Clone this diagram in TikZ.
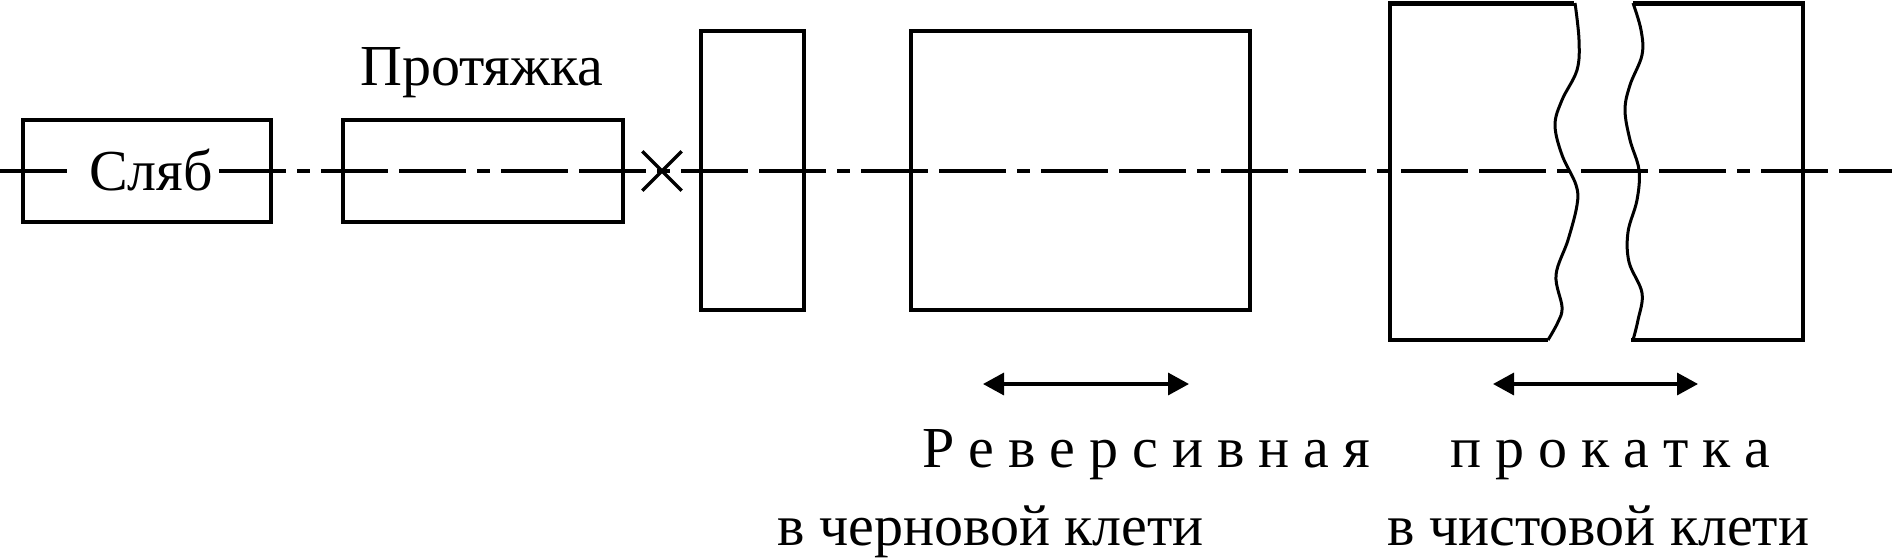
\documentclass[tikz,border=0pt]{standalone}
\usepackage{fontspec}
\setmainfont{Liberation Serif}
\usetikzlibrary{arrows.meta,shapes.misc}
\newlength\lsp
\setlength\lsp{14pt}
\begin{document}
\begin{tikzpicture}[x=1pt,y=-1pt,
  box/.style={draw, line width=4.6pt, inner sep=0pt, rectangle},
  lbl/.style={inner sep=0pt, anchor=base west, font=\fontsize{58}{60}\selectfont},
  axisline/.style={line width=3.6pt},
  wave/.style={line width=3pt, line join=round},
  edge/.style={line width=4.6pt, line join=miter},
  dbl/.style={line width=3.4pt, {Triangle[length=21pt,width=22pt]}-{Triangle[length=21pt,width=22pt]}}]
\useasboundingbox (0,0) rectangle (1892,558);

% centre line
\coordinate (c0) at (0,171);
\coordinate (c1) at (67,171);
\coordinate (c2) at (219,171);
\coordinate (c3) at (1892,171);
\draw[axisline] (c0) -- (c1);
\draw[axisline, dash pattern=on 67pt off 11pt on 13pt off 11pt on 67pt off 11pt] (c2) -- (c3);

% boxes
\node[box, minimum width=248pt, minimum height=102pt] (slab) at (147,171) {};
\node[box, minimum width=280pt, minimum height=102pt] (draw) at (483,171) {};
\node[box, minimum width=103pt, minimum height=279pt] (stand) at (752.5,170.5) {};
\node[box, minimum width=339pt, minimum height=279pt] (rough) at (1080.5,170.5) {};

% cut mark
\node[cross out, draw, line width=3.4pt, inner sep=0pt, minimum size=36pt] (cut) at (662,171) {};

% finishing strip with break
\coordinate (l1) at (1575,3.5);
\coordinate (l2) at (1390,3.5);
\coordinate (l3) at (1390,340);
\coordinate (l4) at (1548,340);
\draw[edge] ([xshift=-1pt]l1) -- (l2) -- (l3) -- (l4);
\draw[wave] plot[smooth, tension=0.6] coordinates {(1575,3) (1579,40) (1577,70) (1562,100) (1555,125) (1562,155) (1576,185) (1577,205) (1568,240) (1556,275) (1562,307) (1558,322) (1548,340)};
\coordinate (r1) at (1633,3.5);
\coordinate (r2) at (1803,3.5);
\coordinate (r3) at (1803,340);
\coordinate (r4) at (1631,340);
\draw[edge] (r1) -- (r2) -- (r3) -- (r4);
\draw[wave] plot[smooth, tension=0.6] coordinates {(1633,3) (1641,30) (1642,55) (1630,85) (1625,110) (1630,140) (1639,170) (1637,200) (1628,232) (1629,262) (1642,293) (1638,320) (1633,340)};

% arrows
\coordinate (a1) at (983,384);
\coordinate (a2) at (1189,384);
\coordinate (b1) at (1493,384);
\coordinate (b2) at (1698,384);
\draw[dbl] (a1) -- (a2);
\draw[dbl] (b1) -- (b2);

% labels
\node[lbl] (tslab) at (89,190) {Сляб};
\node[lbl] (tdraw) at (360,85) {Протяжка};
\node[lbl] (trev) at (922,467) {Р\kern\lsp е\kern\lsp в\kern\lsp е\kern\lsp р\kern\lsp с\kern\lsp и\kern\lsp в\kern\lsp н\kern\lsp а\kern\lsp я};
\node[lbl] (troll) at (1450,467) {п\kern\lsp р\kern\lsp о\kern\lsp к\kern\lsp а\kern\lsp т\kern\lsp к\kern\lsp а};
\node[lbl] (trough) at (777,545) {в черновой клети};
\node[lbl] (tfin) at (1387,545) {в чистовой клети};
\end{tikzpicture}
\end{document}
